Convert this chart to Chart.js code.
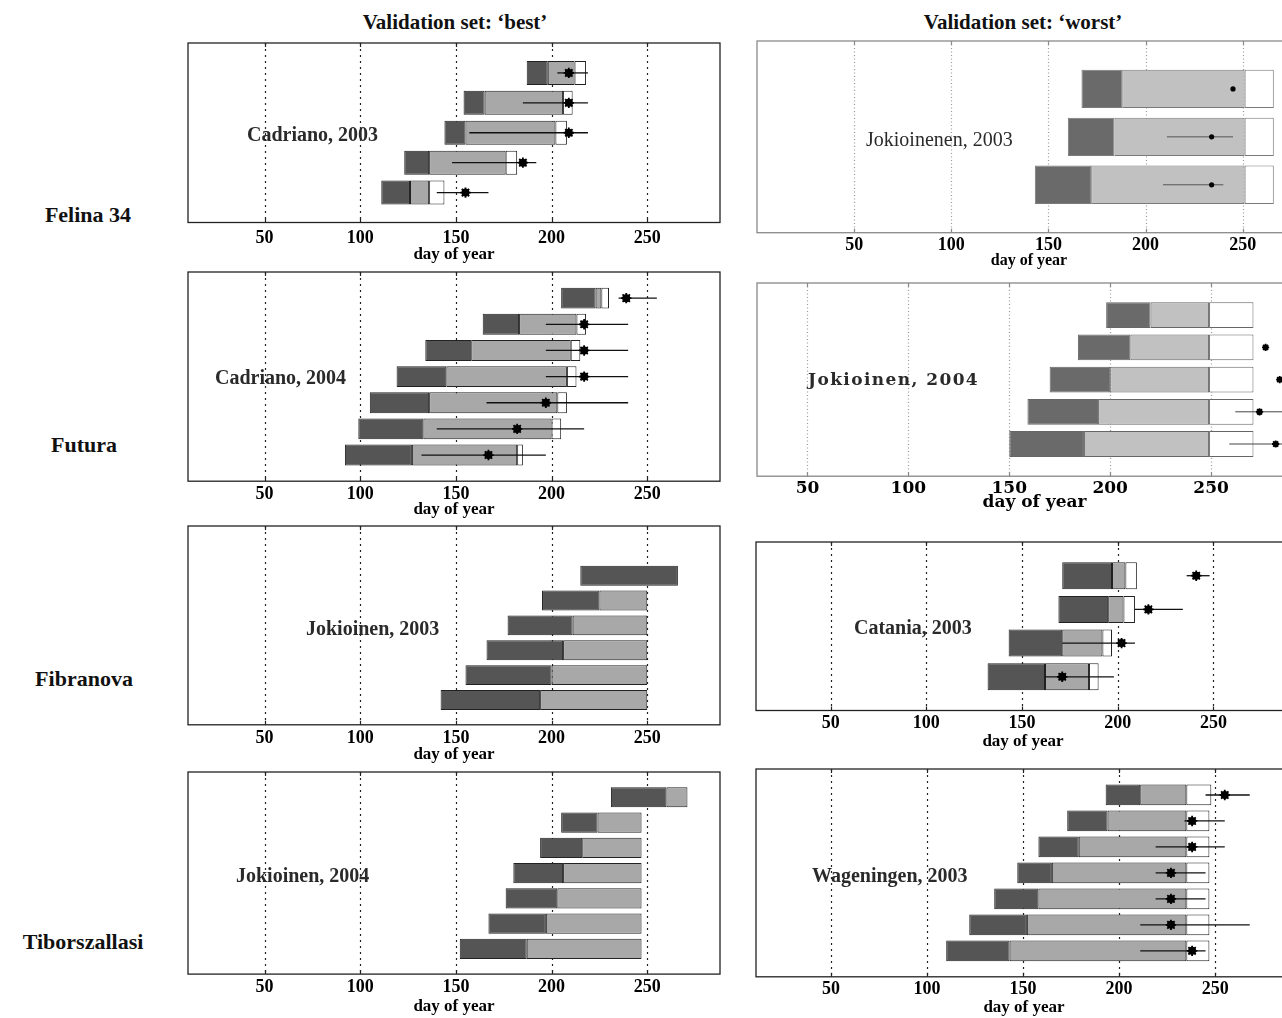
<!DOCTYPE html>
<html lang="en">
<head>
<meta charset="UTF-8">
<title>Validation set: best / worst</title>
<script src="https://cdn.jsdelivr.net/npm/chart.js"></script>
<style>
  html, body { margin: 0; padding: 0; background: #fff; overflow: hidden; width: 1282px; height: 1018px; }
  body { position: relative; font-family: "Liberation Serif", "Times New Roman", serif; color: #111; }
  canvas { position: absolute; }
  .lbl { position: absolute; white-space: nowrap; line-height: 1; transform: translateY(-50%); z-index: 2; }
  .mid { transform: translate(-50%, -50%); }
  .head { font-size: 21px; font-weight: bold; }
  .row { font-size: 22px; font-weight: bold; }
  .site { font-size: 20px; font-weight: bold; color: #2a2a2a; }
  .plain { font-weight: normal; }
  .wide { font-family: "DejaVu Serif", serif; font-size: 17px; letter-spacing: 1.4px; }
</style>
</head>
<body>
<div class="lbl mid head" style="left:455px; top:22px">Validation set: ‘best’</div>
<div class="lbl mid head" style="left:1023px; top:22px">Validation set: ‘worst’</div>

<div class="lbl mid row" style="left:88px; top:215px">Felina 34</div>
<div class="lbl mid row" style="left:84px; top:445px">Futura</div>
<div class="lbl mid row" style="left:84px; top:679px">Fibranova</div>
<div class="lbl mid row" style="left:83px; top:942px">Tiborszallasi</div>

<div class="lbl site" style="left:247px; top:134px">Cadriano, 2003</div>
<div class="lbl site plain" style="left:866px; top:139px">Jokioinenen, 2003</div>
<div class="lbl site" style="left:215px; top:377px">Cadriano, 2004</div>
<div class="lbl site wide" style="left:808px; top:379px">Jokioinen, 2004</div>
<div class="lbl site" style="left:306px; top:628px">Jokioinen, 2003</div>
<div class="lbl site" style="left:854px; top:627px">Catania, 2003</div>
<div class="lbl site" style="left:236px; top:875px">Jokioinen, 2004</div>
<div class="lbl site" style="left:812px; top:875px">Wageningen, 2003</div>

<script>
const dayTicks = [50, 100, 150, 200, 250];

// every array lists the bars from the top one down (day of year)
// Felina 34 - best (Cadriano, 2003)
const felBestStart = [187, 154, 144, 123, 111];
const felBestDark = [198, 165, 155, 136, 126];
const felBestLight = [212, 206, 202, 176, 136];
const felBestWhite = [218, 211, 208, 182, 144];
const felBestObs = [209, 209, 209, 185, 155];
const felBestLo = [203, 185, 157, 148, 140];
const felBestHi = [219, 219, 219, 192, 167];

// Felina 34 - worst (Jokioinenen, 2003)
const felWorstStart = [167, 160, 143];
const felWorstDark = [188, 184, 172];
const felWorstLight = [251, 251, 251];
const felWorstWhite = [266, 266, 266];
const felWorstObs = [245, 234, 234];
const felWorstLo = [245, 211, 209];
const felWorstHi = [245, 245, 240];

// Futura - best (Cadriano, 2004)
const futBestStart = [205, 164, 134, 119, 105, 99, 92];
const futBestDark = [223, 183, 158, 145, 136, 133, 127];
const futBestLight = [226, 213, 210, 208, 203, 200, 182];
const futBestWhite = [230, 218, 215, 213, 208, 205, 185];
const futBestObs = [239, 217, 217, 217, 197, 182, 167];
const futBestLo = [235, 197, 197, 197, 166, 140, 132];
const futBestHi = [255, 240, 240, 240, 240, 217, 197];

// Futura - worst (Jokioinen, 2004)
const futWorstStart = [198, 184, 170, 159, 150];
const futWorstDark = [220, 210, 200, 194, 187];
const futWorstLight = [249, 249, 249, 249, 249];
const futWorstWhite = [271, 271, 271, 271, 271];
const futWorstObs = [292, 277, 284, 274, 282];
const futWorstLo = [292, 277, 284, 262, 259];
const futWorstHi = [292, 277, 284, 292, 292];

// Fibranova - best (Jokioinen, 2003)
const fibBestStart = [215, 195, 177, 166, 155, 142];
const fibBestDark = [266, 225, 211, 206, 200, 194];
const fibBestLight = [266, 250, 250, 250, 250, 250];

// Fibranova - worst (Catania, 2003)
const fibWorstStart = [171, 169, 143, 132];
const fibWorstDark = [197, 195, 171, 162];
const fibWorstLight = [204, 203, 192, 185];
const fibWorstWhite = [210, 209, 197, 190];
const fibWorstObs = [241, 216, 202, 171];
const fibWorstLo = [236, 209, 171, 162];
const fibWorstHi = [248, 234, 209, 198];

// Tiborszallasi - best (Jokioinen, 2004)
const tibBestStart = [231, 205, 194, 180, 176, 167, 152];
const tibBestDark = [260, 224, 216, 206, 203, 197, 187];
const tibBestLight = [271, 247, 247, 247, 247, 247, 247];

// Tiborszallasi - worst (Wageningen, 2003)
const tibWorstStart = [193, 173, 158, 147, 135, 122, 110];
const tibWorstDark = [211, 194, 179, 165, 158, 152, 143];
const tibWorstLight = [235, 235, 235, 235, 235, 235, 235];
const tibWorstWhite = [248, 247, 247, 247, 247, 247, 247];
const tibWorstObs = [255, 238, 238, 227, 227, 227, 238];
const tibWorstLo = [245, 234, 219, 219, 219, 211, 211];
const tibWorstHi = [268, 255, 255, 245, 245, 268, 245];

const looks = {
  bold: { dark: '#555555', light: '#a8a8a8', edge: '#222', frame: '#222', grid: '#222', dash: [2, 4],
          err: '#111', errW: 1.3, dot: 4, star: 5.2, font: 'Liberation Serif', tick: 18, title: 17 },
  faint: { dark: '#6a6a6a', light: '#c1c1c1', edge: '#7a7a7a', frame: '#8a8a8a', grid: '#999', dash: [1, 2.5],
           err: '#555', errW: 1, dot: 2.6, star: 0, font: 'Liberation Serif', tick: 18, title: 16 },
  wide: { dark: '#6a6a6a', light: '#c1c1c1', edge: '#666', frame: '#888', grid: '#999', dash: [1, 2.5],
          err: '#444', errW: 1, dot: 2.8, star: 3.6, font: 'DejaVu Serif', tick: 17, title: 17 }
};

const panels = [
  { box: [188, 42.5, 720, 221.5], xMin: 10, xMax: 288, yMax: 6, look: 'bold', tickGap: 15.7, titleGap: 32.3,
    start: felBestStart, dark: felBestDark, light: felBestLight, white: felBestWhite, obs: felBestObs, lo: felBestLo, hi: felBestHi },
  { box: [757, 41, 1301, 232.3], xMin: 0, xMax: 280, yMax: 4, look: 'faint', tickGap: 12.7, titleGap: 27.7,
    start: felWorstStart, dark: felWorstDark, light: felWorstLight, white: felWorstWhite, obs: felWorstObs, lo: felWorstLo, hi: felWorstHi },
  { box: [188, 272, 720, 481], xMin: 10, xMax: 288, yMax: 8, look: 'bold', tickGap: 13.3, titleGap: 28.6,
    start: futBestStart, dark: futBestDark, light: futBestLight, white: futBestWhite, obs: futBestObs, lo: futBestLo, hi: futBestHi },
  { box: [757.3, 283.3, 1312.5, 476.7], xMin: 25, xMax: 300, yMax: 6, look: 'wide', tickGap: 12.6, titleGap: 26.6,
    start: futWorstStart, dark: futWorstDark, light: futWorstLight, white: futWorstWhite, obs: futWorstObs, lo: futWorstLo, hi: futWorstHi },
  { box: [188, 526, 720, 725], xMin: 10, xMax: 288, yMax: 8, look: 'bold', tickGap: 13.3, titleGap: 30,
    start: fibBestStart, dark: fibBestDark, light: fibBestLight },
  { box: [756, 542.3, 1290, 711], xMin: 11, xMax: 290, yMax: 5, look: 'bold', tickGap: 13.3, titleGap: 31.3,
    start: fibWorstStart, dark: fibWorstDark, light: fibWorstLight, white: fibWorstWhite, obs: fibWorstObs, lo: fibWorstLo, hi: fibWorstHi },
  { box: [188, 772, 720, 974], xMin: 10, xMax: 288, yMax: 8, look: 'bold', tickGap: 13.3, titleGap: 32.7,
    start: tibBestStart, dark: tibBestDark, light: tibBestLight },
  { box: [756, 769.3, 1291.7, 977.3], xMin: 11, xMax: 290, yMax: 8, look: 'bold', tickGap: 12.7, titleGap: 31,
    start: tibWorstStart, dark: tibWorstDark, light: tibWorstLight, white: tibWorstWhite, obs: tibWorstObs, lo: tibWorstLo, hi: tibWorstHi }
];

function framePlugin(p, L) {
  const n = p.start.length;
  return {
    id: 'frame',
    beforeDatasetsDraw(chart) {
      const { ctx, chartArea: a, scales: { x } } = chart;
      ctx.save();
      ctx.strokeStyle = L.grid;
      ctx.lineWidth = 1.2;
      ctx.setLineDash(L.dash);
      dayTicks.forEach(v => {
        const px = Math.round(x.getPixelForValue(v)) + 0.5;
        ctx.beginPath(); ctx.moveTo(px, a.top); ctx.lineTo(px, a.bottom); ctx.stroke();
      });
      ctx.restore();
    },
    beforeDatasetDraw(chart, args) {
      // error bars go on top of the bars, under the markers
      if (!p.obs || args.index !== 1) return;
      const { ctx, scales: { x, y } } = chart;
      ctx.save();
      ctx.strokeStyle = L.err;
      ctx.lineWidth = L.errW;
      p.lo.forEach((lo, i) => {
        if (p.hi[i] <= lo) return;
        const py = y.getPixelForValue(n - i);
        ctx.beginPath(); ctx.moveTo(x.getPixelForValue(lo), py); ctx.lineTo(x.getPixelForValue(p.hi[i]), py); ctx.stroke();
      });
      ctx.restore();
    },
    afterDatasetsDraw(chart) {
      const { ctx, chartArea: a, scales: { x } } = chart;
      ctx.save();
      ctx.strokeStyle = L.frame;
      ctx.lineWidth = 1.3;
      ctx.strokeRect(a.left, a.top, a.right - a.left, a.bottom - a.top);
      ctx.lineWidth = 1.2;
      dayTicks.forEach(v => {
        const px = Math.round(x.getPixelForValue(v)) + 0.5;
        ctx.beginPath();
        ctx.moveTo(px, a.bottom); ctx.lineTo(px, a.bottom - 4);
        ctx.moveTo(px, a.top); ctx.lineTo(px, a.top + 4);
        ctx.stroke();
      });
      ctx.restore();
    }
  };
}

function buildPanel(p) {
  const L = looks[p.look];
  const n = p.start.length;
  const pad = 3;
  const axisH = p.titleGap + 0.6 * L.title;
  const [x0, y0, x1, y1] = p.box;
  const cv = document.createElement('canvas');
  const w = Math.round(x1 - x0 + 2 * pad);
  const h = Math.round(y1 - y0 + pad + axisH);
  cv.width = w; cv.height = h;
  cv.style.width = w + 'px'; cv.style.height = h + 'px';
  cv.style.left = (x0 - pad) + 'px';
  cv.style.top = (y0 - pad) + 'px';
  document.body.appendChild(cv);

  const seg = (from, to) => from.map((v, i) => (to[i] > v ? { x: [v, to[i]], y: n - i } : null)).filter(Boolean);
  const barStyle = { type: 'bar', borderColor: L.edge, borderWidth: 1, borderSkipped: false,
                     grouped: false, barPercentage: 0.8, categoryPercentage: 1 };
  const pts = p.obs ? p.obs.map((v, i) => ({ x: v, y: n - i })) : [];

  const datasets = [
    { type: 'scatter', data: pts, pointStyle: 'star', pointRadius: L.star, borderColor: '#000', borderWidth: 1.8, backgroundColor: '#000' },
    { type: 'scatter', data: pts, pointStyle: 'circle', pointRadius: L.dot, borderWidth: 0, backgroundColor: '#000' }
  ];
  if (p.white) datasets.push({ ...barStyle, data: seg(p.light, p.white), backgroundColor: '#ffffff' });
  datasets.push({ ...barStyle, data: seg(p.dark, p.light), backgroundColor: L.light });
  datasets.push({ ...barStyle, data: seg(p.start, p.dark), backgroundColor: L.dark });

  new Chart(cv, {
    type: 'bar',
    data: { datasets },
    options: {
      indexAxis: 'y',
      responsive: false,
      animation: false,
      events: [],
      layout: { autoPadding: false, padding: { left: pad, right: pad, top: pad, bottom: 0 } },
      plugins: { legend: { display: false }, tooltip: { enabled: false } },
      scales: {
        x: {
          type: 'linear', position: 'bottom', min: p.xMin, max: p.xMax, offset: false,
          grid: { display: false, drawTicks: false },
          border: { display: false },
          afterBuildTicks: s => { s.ticks = dayTicks.map(v => ({ value: v })); },
          afterFit: s => { s.height = axisH; },
          ticks: { padding: p.tickGap - 0.6 * L.tick, color: '#000', maxRotation: 0,
                   font: { family: L.font, size: L.tick, weight: 'bold' } },
          title: { display: true, text: 'day of year', color: '#000', padding: { top: 0, bottom: 0 },
                   font: { family: L.font, size: L.title, weight: 'bold' } }
        },
        y: { type: 'linear', display: false, min: 0, max: p.yMax, offset: false, ticks: { stepSize: 1 } }
      }
    },
    plugins: [framePlugin(p, L)]
  });
}

panels.forEach(buildPanel);
</script>
</body>
</html>
